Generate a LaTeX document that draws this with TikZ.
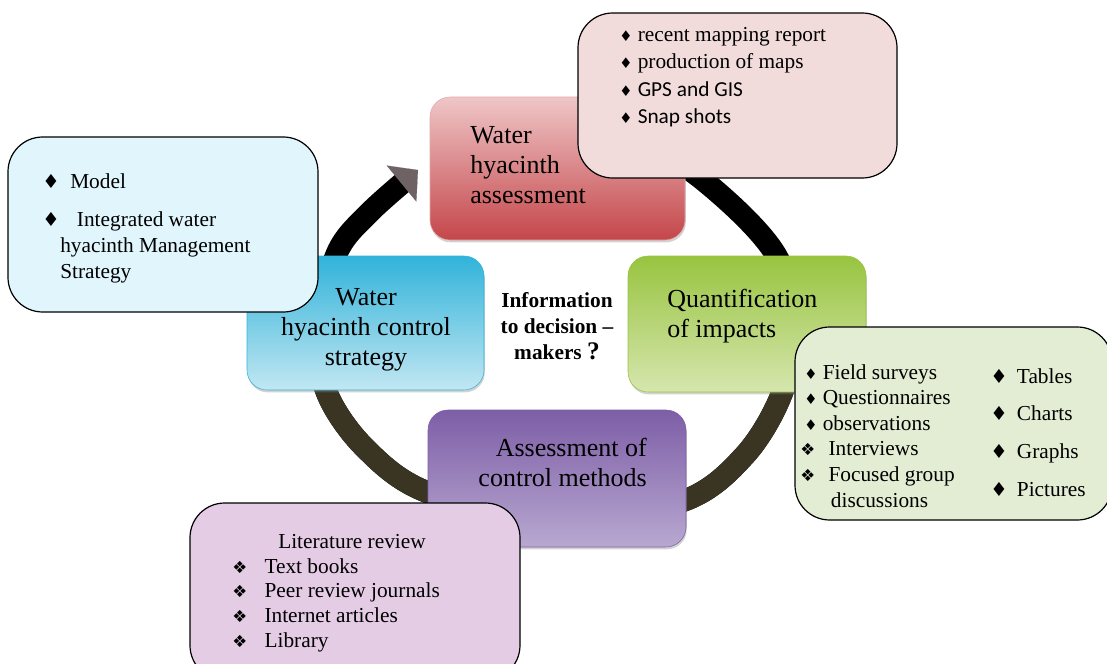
\documentclass[tikz,border=0pt]{standalone}
\usepackage{fontspec}
\setmainfont{Liberation Serif}
\newfontfamily\calibrifont{Carlito}
\newfontfamily\dingfont{DejaVu Sans}
\usepackage{tikz}
\usetikzlibrary{
  arrows.meta,
  shadows}

\definecolor{hyaTop}{HTML}{EFC6C7}
\definecolor{hyaMid}{HTML}{E4A9AB}
\definecolor{hyaBot}{HTML}{C4464A}
\definecolor{ctrlTop}{HTML}{31B3DA}
\definecolor{ctrlMid}{HTML}{ABDEEE}
\definecolor{ctrlBot}{HTML}{C2E7F2}
\definecolor{quaTop}{HTML}{98C440}
\definecolor{quaMid}{HTML}{C6DD8E}
\definecolor{quaBot}{HTML}{D6E6AE}
\definecolor{metTop}{HTML}{7D5EA7}
\definecolor{metMid}{HTML}{9E87C1}
\definecolor{metBot}{HTML}{B8A8D0}
\definecolor{callPink}{HTML}{F2DCDB}
\definecolor{callBlue}{HTML}{E1F5FC}
\definecolor{callGreen}{HTML}{E2EDD3}
\definecolor{callPurple}{HTML}{E5CCE5}
\definecolor{ringOlive}{HTML}{3A3523}
\definecolor{ringTip}{HTML}{6E6265}

\newcommand{\sdia}{{\dingfont\fontsize{11}{11}\selectfont ♦}}
\newcommand{\bdia}{{\dingfont\fontsize{14.5}{14.5}\selectfont ♦}}
\newcommand{\fdia}{{\dingfont\fontsize{12.5}{12.5}\selectfont ❖}}

\begin{document}
\begin{tikzpicture}[
  x=0.75pt, y=0.75pt,
  stage/.style={rectangle, rounded corners=15pt, inner sep=0pt, draw=#1,
    drop shadow={shadow xshift=0.6pt, shadow yshift=-1.8pt, opacity=0.35}},
  stagetext/.style={inner sep=0pt, font=\fontsize{19.5}{22.5}\selectfont},
  callout/.style={rectangle, rounded corners=26pt, draw=black, line width=0.9pt, fill=#1},
  calltext/.style={inner sep=0pt, align=left, anchor=north west},
  cyclering/.style={line width=16.5pt, draw=black},
]%
  \useasboundingbox[fill=white] (0,0) rectangle (1107,-664);

  \draw[cyclering, -{Triangle[width=35pt,length=16pt,color=ringTip,line width=0.1pt]}]
    plot[smooth, tension=0.55] coordinates {(600,-112) (703,-180) (776,-255) (792,-330)
      (782,-393) (745,-455) (683,-501) (556,-522) (427,-492) (365,-448) (327,-393)
      (318,-330) (337,-253) (370,-212) (418,-170)};
  \begin{scope}
    \clip (0,-330) rectangle (1107,-700);
    \draw[cyclering, draw=ringOlive]
      plot[smooth, tension=0.55] coordinates {(600,-112) (703,-180) (776,-255) (792,-330)
        (782,-393) (745,-455) (683,-501) (556,-522) (427,-492) (365,-448) (327,-393)
        (318,-330) (337,-253) (370,-212) (418,-170)};
  \end{scope}

  \node[stage=hyaMid, minimum width=191.25pt, minimum height=107.25pt,
    top color=hyaTop, middle color=hyaMid, bottom color=hyaBot] (bA) at (557.5,-168.5) {};
  \node[stage=quaTop, minimum width=178.5pt, minimum height=102pt,
    top color=quaTop, middle color=quaMid, bottom color=quaBot] (bB) at (747,-324) {};
  \node[stage=ctrlTop, minimum width=177.75pt, minimum height=100.5pt,
    top color=ctrlTop, middle color=ctrlMid, bottom color=ctrlBot] (bC) at (365.5,-323) {};
  \node[stage=metTop, minimum width=193.5pt, minimum height=102.75pt,
    top color=metTop, middle color=metMid, bottom color=metBot] (bD) at (557,-478.5) {};

  \node[stagetext, anchor=west, align=left] (tA) at (470,-165) {Water\\hyacinth\\assessment};
  \node[stagetext, anchor=west, align=left] (tB) at (667,-316) {Quantification\\of impacts};
  \node[stagetext, align=center] (tC) at (366,-330) {Water\\hyacinth control\\strategy};
  \node[stagetext, anchor=east, align=right] (tD) at (647,-462) {Assessment of\\control methods};

  \node[inner sep=0pt, align=center, font=\bfseries\fontsize{16}{19.5}\selectfont] (info)
    at (557,-326) {Information\\to decision --\\makers {\fontsize{19}{19}\selectfont ?}};

  \node[callout=callPink, minimum width=239.25pt, minimum height=123.75pt] (cA) at (737.5,-95.5) {};
  \node[calltext, font=\fontsize{16}{20.5}\selectfont] (lA) at (619,-27) {%
    \sdia\ recent mapping report\\
    \sdia\ production of maps\\
    \sdia\ {\calibrifont GPS and GIS}\\
    \sdia\ {\calibrifont Snap shots}};

  \node[callout=callBlue, minimum width=232.5pt, minimum height=131.25pt] (cB) at (163,-224.5) {};
  \node[calltext, font=\fontsize{16}{19.5}\selectfont] (lB) at (42,-173) {%
    \bdia\hspace{8pt}Model\\[9pt]
    \bdia\hspace{13pt}Integrated water\\
    \hspace*{13.5pt}hyacinth Management\\
    \hspace*{13.5pt}Strategy};

  \node[callout=callGreen, minimum width=237.75pt, minimum height=144.75pt] (cC) at (953.5,-423.5) {};
  \node[calltext, font=\fontsize{16}{19.2}\selectfont] (lC) at (800,-364) {%
    \hspace*{3pt}\sdia\ Field surveys\\
    \hspace*{3pt}\sdia\ Questionnaires\\
    \hspace*{3pt}\sdia\ observations\\
    \fdia\hspace{10pt}Interviews\\
    \fdia\hspace{10pt}Focused group\\
    \hspace*{23pt}discussions};
  \node[calltext, font=\fontsize{16}{28.3}\selectfont] (lD) at (990,-368) {%
    \bdia\hspace{7pt}Tables\\
    \bdia\hspace{7pt}Charts\\
    \bdia\hspace{7pt}Graphs\\
    \bdia\hspace{7pt}Pictures};

  \node[callout=callPurple, minimum width=247.5pt, minimum height=132.75pt] (cD) at (355,-591.5) {};
  \node[calltext, font=\fontsize{16}{18.6}\selectfont] (lE) at (232,-534) {%
    \hspace*{34.5pt}Literature review\\
    \fdia\hspace{13pt}Text books\\
    \fdia\hspace{13pt}Peer review journals\\
    \fdia\hspace{13pt}Internet articles\\
    \fdia\hspace{13pt}Library};
\end{tikzpicture}
\end{document}
